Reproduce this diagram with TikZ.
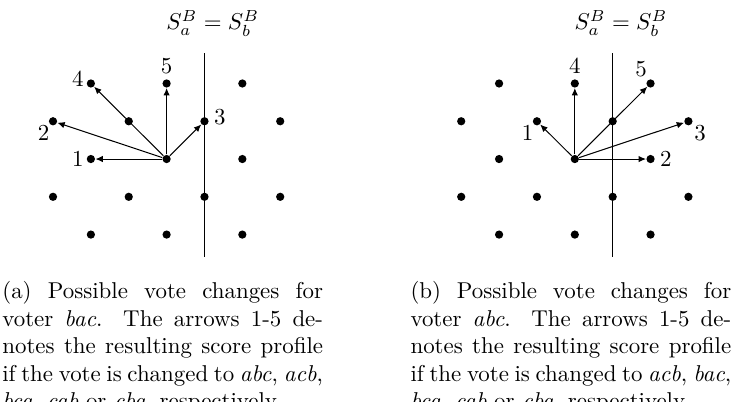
\documentclass[tikz,border=0pt]{standalone}
\usepackage{amsmath,amssymb}
\usepackage{tikz}
\usetikzlibrary{arrows.meta,positioning}

\begin{document}
\begin{tikzpicture}[
      x=16.53pt, y=16.49pt,
      dot/.style={circle, fill=black, inner sep=0pt, minimum size=3.6pt},
      arr/.style={-{Latex[length=3.2pt,width=2.8pt]}, line width=0.45pt},
      lbl/.style={inner sep=0pt, font=\normalsize},
      divider/.style={line width=0.45pt},
      caption/.style={text width=140pt, align=justify, inner sep=0pt,
                      anchor=north west, font=\normalsize},
    ]
    \useasboundingbox (-4.40,-6.41) rectangle (15.01,4.21);

    % (a) voter bac
    \node[dot] (a4)  at (-2, 2) {};
    \node[dot] (a5)  at ( 0, 2) {};
    \node[dot] (au1) at ( 2, 2) {};
    \node[dot] (a2)  at (-3, 1) {};
    \node[dot] (am)  at (-1, 1) {};
    \node[dot] (a3)  at ( 1, 1) {};
    \node[dot] (au2) at ( 3, 1) {};
    \node[dot] (a1)  at (-2, 0) {};
    \node[dot] (ac)  at ( 0, 0) {};
    \node[dot] (au3) at ( 2, 0) {};
    \node[dot] (au4) at (-3,-1) {};
    \node[dot] (au5) at (-1,-1) {};
    \node[dot] (au6) at ( 1,-1) {};
    \node[dot] (au7) at ( 3,-1) {};
    \node[dot] (au8) at (-2,-2) {};
    \node[dot] (au9) at ( 0,-2) {};
    \node[dot] (au10) at ( 2,-2) {};

    \coordinate (atop) at (1, 2.80);
    \coordinate (abot) at (1,-2.60);
    \draw[divider] (atop) -- (abot);
    \node[lbl, anchor=base west] (atitle) at (-0.02, 3.42) {$S_a^B = S_b^B$};

    \draw[arr] (ac) -- (a1);
    \draw[arr] (ac) -- (a2);
    \draw[arr] (ac) -- (a3);
    \draw[arr] (ac) -- (a4);
    \draw[arr] (ac) -- (a5);

    \node[lbl, left=1pt of a1]               {1};
    \node[lbl, below left=0pt and 0pt of a2] {2};
    \node[lbl, right=2pt of a3, yshift=2pt]  {3};
    \node[lbl, left=1pt of a4, yshift=2pt]   {4};
    \node[lbl, above=2pt of a5]              {5};

    \node[caption] (acap) at (-4.35,-3.23)
      {(a) Possible vote changes for voter \emph{bac}. The arrows 1-5 denotes the resulting score profile if the vote is changed to \emph{abc}, \emph{acb}, \emph{bca}, \emph{cab} or \emph{cba}, respectively.};

    % (b) voter abc
    \begin{scope}[shift={(10.78,0)}]
    \node[dot] (bu1) at (-2, 2) {};
    \node[dot] (b4)  at ( 0, 2) {};
    \node[dot] (b5)  at ( 2, 2) {};
    \node[dot] (bu2) at (-3, 1) {};
    \node[dot] (b1)  at (-1, 1) {};
    \node[dot] (bm)  at ( 1, 1) {};
    \node[dot] (b3)  at ( 3, 1) {};
    \node[dot] (bu3) at (-2, 0) {};
    \node[dot] (bc)  at ( 0, 0) {};
    \node[dot] (b2)  at ( 2, 0) {};
    \node[dot] (bu4) at (-3,-1) {};
    \node[dot] (bu5) at (-1,-1) {};
    \node[dot] (bu6) at ( 1,-1) {};
    \node[dot] (bu7) at ( 3,-1) {};
    \node[dot] (bu8) at (-2,-2) {};
    \node[dot] (bu9) at ( 0,-2) {};
    \node[dot] (bu10) at ( 2,-2) {};

    \coordinate (btop) at (1, 2.80);
    \coordinate (bbot) at (1,-2.60);
    \draw[divider] (btop) -- (bbot);
    \node[lbl, anchor=base west] (btitle) at (-0.02, 3.42) {$S_a^B = S_b^B$};

    \draw[arr] (bc) -- (b1);
    \draw[arr] (bc) -- (b2);
    \draw[arr] (bc) -- (b3);
    \draw[arr] (bc) -- (b4);
    \draw[arr] (bc) -- (b5);

    \node[lbl, below left=0pt and 0pt of b1]  {1};
    \node[lbl, right=2pt of b2]               {2};
    \node[lbl, below right=0pt and 1pt of b3] {3};
    \node[lbl, above=2pt of b4]               {4};
    \node[lbl, above left=1pt and 0pt of b5]  {5};
    \end{scope}

    \node[caption] (bcap) at (6.43,-3.23)
      {(b) Possible vote changes for voter \emph{abc}. The arrows 1-5 denotes the resulting score profile if the vote is changed to \emph{acb}, \emph{bac}, \emph{bca}, \emph{cab} or \emph{cba}, respectively.};
  \end{tikzpicture}
\end{document}
